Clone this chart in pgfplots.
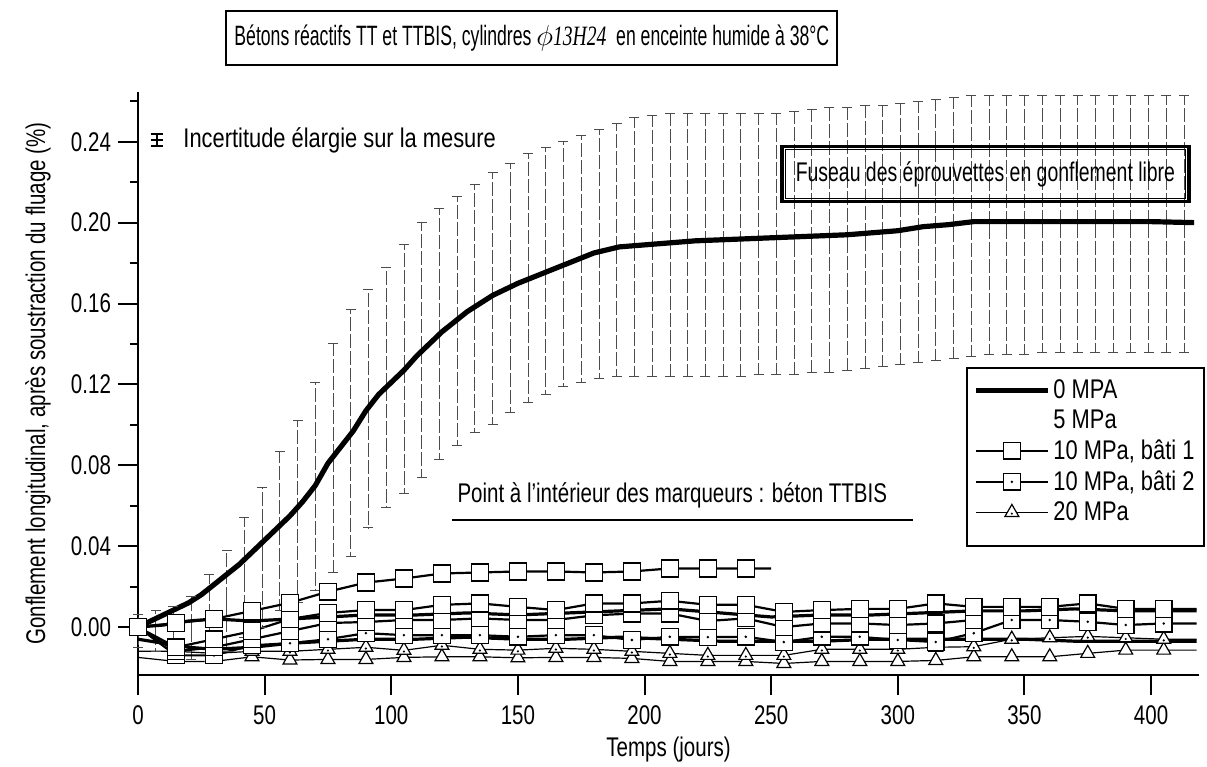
\documentclass[border=0pt]{standalone}
\usepackage{pgfplots}
\pgfplotsset{compat=1.18}
\usepackage{pgfplotstable}
\usepackage{fontspec}
\setmainfont{Liberation Sans}[FakeStretch=0.76]
\newfontfamily\widefont{Liberation Sans}[FakeStretch=0.81]
\newfontfamily\fusfont{Liberation Sans}[FakeStretch=0.72]
\newfontfamily\titlefont{Liberation Sans}[FakeStretch=0.63]
\newfontfamily\serifit{Liberation Serif}[FakeStretch=0.7]
\newcommand\fs{\fontsize{13.5}{15}\selectfont}

% square with a dot (TTBIS), triangle with a dot
\pgfdeclareplotmark{sqdot}{%
  \pgfpathrectangle{\pgfqpoint{-\pgfplotmarksize}{-\pgfplotmarksize}}{\pgfqpoint{2\pgfplotmarksize}{2\pgfplotmarksize}}%
  \pgfusepathqfillstroke
  \begin{pgfscope}\pgfpathcircle{\pgfpointorigin}{0.7pt}\pgfsetfillcolor{black}\pgfusepathqfill\end{pgfscope}}
\pgfdeclareplotmark{tridot}{%
  \pgfuseplotmark{triangle*}%
  \begin{pgfscope}\pgfpathcircle{\pgfqpoint{0pt}{-0.15\pgfplotmarksize}}{0.6pt}\pgfsetfillcolor{black}\pgfusepathqfill\end{pgfscope}}

\pgfplotsset{
  sq1/.style={black, line width=1.1pt, mark=square*, mark size=4.2pt, mark options={fill=white, line width=0.7pt}},
  sq2/.style={black, line width=1.1pt, mark=sqdot, mark size=4.2pt, mark options={fill=white, line width=0.7pt}},
  tri1/.style={black, line width=0.6pt, mark=triangle*, mark size=4pt, mark options={fill=white, line width=0.6pt}},
  tri2/.style={black, line width=0.6pt, mark=tridot, mark size=4pt, mark options={fill=white, line width=0.6pt}},
}

% envelope of the free-swelling specimens
\pgfplotstableread{
x   hi     lo
0   0.006  -0.010
7   0.008  -0.012
14  0.010  -0.014
21  0.015  -0.016
28  0.026  -0.017
35  0.038  -0.012
42  0.054  -0.005
49  0.069  0.000
56  0.087  0.008
63  0.102  0.012
70  0.121  0.018
77  0.140  0.027
84  0.157  0.035
91  0.167  0.049
98  0.178  0.059
105 0.189  0.066
112 0.200  0.074
119 0.207  0.083
126 0.213  0.090
133 0.219  0.096
140 0.225  0.100
147 0.229  0.106
154 0.234  0.111
161 0.237  0.115
168 0.240  0.119
175 0.243  0.121
182 0.246  0.123
189 0.249  0.124
196 0.252  0.124
203 0.253  0.124
210 0.254  0.124
217 0.254  0.124
224 0.254  0.124
231 0.254  0.124
238 0.254  0.124
245 0.254  0.125
252 0.254  0.125
259 0.255  0.125
266 0.256  0.126
273 0.257  0.126
280 0.257  0.127
287 0.258  0.128
294 0.258  0.129
301 0.259  0.130
308 0.260  0.131
315 0.261  0.132
322 0.262  0.133
329 0.263  0.134
336 0.263  0.135
343 0.263  0.135
350 0.263  0.135
357 0.263  0.136
364 0.263  0.136
371 0.263  0.136
378 0.263  0.136
385 0.263  0.136
392 0.263  0.136
399 0.263  0.136
406 0.263  0.136
413 0.263  0.136
}\fus

\pgfplotstableread{
x   y
0   0.000
5   0.003
10  0.006
15  0.009
20  0.012
25  0.016
30  0.021
35  0.026
40  0.031
45  0.037
50  0.043
55  0.049
60  0.055
65  0.062
70  0.070
75  0.081
80  0.089
85  0.097
90  0.107
95  0.115
100 0.121
105 0.127
110 0.134
115 0.140
120 0.146
125 0.151
130 0.156
135 0.160
140 0.164
150 0.170
160 0.175
170 0.180
180 0.185
190 0.188
200 0.189
210 0.190
220 0.191
240 0.192
260 0.193
280 0.194
300 0.196
310 0.198
320 0.199
330 0.2005
360 0.2005
400 0.2005
417 0.200
}\zero

\pgfplotstableread{
x   y
0   0.000
15  0.002
30  0.004
45  0.008
60  0.012
75  0.0175
90  0.022
105 0.024
120 0.0265
135 0.027
150 0.0275
165 0.0275
180 0.027
195 0.0275
210 0.029
225 0.029
240 0.029
250 0.029
}\batiA

\pgfplotstableread{
x   B       C       D       F       G
0   0.000   0.000   0.000   -0.012  -0.015
15  -0.010  -0.012  -0.014  -0.012  -0.017
30  -0.006  -0.010  -0.014  -0.013  -0.017
45  -0.002  -0.006  -0.009  -0.012  -0.0147
60  0.004   -0.002  -0.008  -0.012  -0.0163
75  0.007   0.002   -0.006  -0.011  -0.016
90  0.0084  0.0025  -0.003  -0.010  -0.016
105 0.0084  0.0035  -0.004  -0.0115 -0.015
120 0.011   0.0035  -0.004  -0.009  -0.0147
135 0.0117  0.0043  -0.004  -0.011  -0.0147
150 0.010   0.0035  -0.0048 -0.0114 -0.0152
165 0.0084  0.0035  -0.004  -0.0105 -0.015
180 0.0117  0.0058  -0.004  -0.011  -0.015
195 0.0117  0.0067  -0.0064 -0.012  -0.0155
210 0.013   0.0067  -0.0048 -0.013  -0.017
225 0.011   0.003   -0.005  -0.014  -0.017
240 0.011   0.0043  -0.0048 -0.014  -0.017
255 0.0075  0.000   -0.0074 -0.014  -0.018
270 0.0084  0.0018  -0.0048 -0.011  -0.017
285 0.009   0.0018  -0.0048 -0.011  -0.017
300 0.009   0.001   -0.0064 -0.011  -0.017
315 0.0117  0.0018  -0.0074 -0.010  -0.0165
330 0.010   0.0035  -0.003  -0.0097 -0.0147
345 0.010   nan     0.0035  -0.006  -0.0147
360 0.010   nan     0.0035  -0.0053 -0.0147
375 0.0117  nan     0.0026  -0.0046 -0.013
390 0.009   nan     0.0010  -0.0053 -0.0114
405 0.009   nan     0.0018  -0.006  -0.0114
418 0.009   nan     0.0018  -0.006  -0.0114
}\clus

\pgfplotstableread{
x   E1      E2
0   0.000   -0.006
10  0.001   -0.008
20  0.003   -0.010
30  0.004   -0.011
45  0.003   -0.010
60  0.004   -0.008
75  0.005   -0.007
90  0.006   -0.006
110 0.006   -0.006
130 0.007   -0.005
150 0.006   -0.006
170 0.007   -0.006
190 0.008   -0.005
210 0.009   -0.006
230 0.007   -0.007
250 0.005   -0.007
270 0.006   -0.007
290 0.006   -0.006
310 0.007   -0.006
330 0.008   -0.006
350 0.008   -0.006
370 0.009   -0.007
390 0.008   -0.007
418 0.008   -0.007
}\cinq

\begin{document}
\begin{tikzpicture}
\useasboundingbox (-69pt,-46pt) rectangle (534.5pt,337.5pt);
\begin{axis}[
  at={(0pt,0pt)}, anchor=south west,
  width=530.6pt, height=291.5pt, scale only axis,
  xmin=0, xmax=419, ymin=-0.0237, ymax=0.2646,
  axis x line=bottom, axis y line=left,
  axis line style={-, line width=1.2pt},
  tick align=outside, major tick length=10pt, minor tick length=4pt,
  tick style={black, line width=1pt},
  xtick={0,50,100,150,200,250,300,350,400},
  ytick={0,0.04,0.08,0.12,0.16,0.20,0.24},
  minor ytick={0.02,0.06,0.10,0.14,0.18,0.22,0.26},
  ticklabel style={font=\fs},
  xticklabel style={yshift=-2pt},
  /pgf/number format/assume math mode=true,
  yticklabel style={/pgf/number format/.cd, fixed, fixed zerofill, precision=2},
  xlabel={Temps (jours)},
  ylabel={Gonflement longitudinal, après soustraction du fluage (\%)},
  label style={font=\fs},
  xlabel style={at={(axis description cs:0.5,-0.1286)}, anchor=center},
  ylabel style={at={(axis description cs:-0.0943,0.5)}, anchor=center, rotate=0},
  clip=false,
  legend style={at={(1.005,0.528)}, anchor=north east, draw=black, line width=1pt,
    fill=white, font=\widefont\fs, inner xsep=3pt, inner ysep=4pt, row sep=1.2pt,
    nodes={inner sep=1.5pt}},
  legend cell align=left,
  legend image code/.code={\draw[mark repeat=2, mark phase=2, #1] plot coordinates {(0pt,0pt) (18pt,0pt) (36pt,0pt)};},
]
% envelope (uncertainty band of free swelling)
\addplot[draw=none, mark=none, forget plot,
  error bars/.cd, y dir=both, y explicit, error mark=none,
  error bar style={line width=0.35pt, black!70, dash pattern=on 7pt off 1.5pt}]
  table[x=x, y expr=(\thisrow{hi}+\thisrow{lo})/2, y error expr=(\thisrow{hi}-\thisrow{lo})/2] {\fus};
\addplot[only marks, mark=-, mark size=2.5pt, mark options={line width=0.5pt, black!70}, forget plot] table[x=x, y=hi] {\fus};
\addplot[only marks, mark=-, mark size=2.5pt, mark options={line width=0.5pt, black!70}, forget plot] table[x=x, y=lo] {\fus};

% 5 MPa
\addplot[black, line width=1.6pt, forget plot] table[x=x, y=E1] {\cinq};
\addplot[black, line width=1.6pt, forget plot] table[x=x, y=E2] {\cinq};
% 20 MPa
\addplot[tri1, mark indices={4,5,6,7,8,9,10,11,12,13,14,15,16,17,18,19,20,21,22,23,24,25,26,27,28}, forget plot] table[x=x, y=G] {\clus};
\addplot[tri2, mark indices={4,5,6,7,8,9,10,11,12,13,14,15,16,17,18,19,20,21,22,23,24,25,26,27,28}, forget plot] table[x=x, y=F] {\clus};
% 10 MPa
\addplot[sq2, mark indices={1,2,3,4,5,6,7,8,9,10,11,12,13,14,15,16,17,18,19,20,21,22,23,24,25,26,27,28}, forget plot] table[x=x, y=D] {\clus};
\addplot[sq1, forget plot] table[x=x, y=C] {\clus};
\addplot[sq1, mark indices={1,2,3,4,5,6,7,8,9,10,11,12,13,14,15,16,17,18,19,20,21,22,23,24,25,26,27,28}, forget plot] table[x=x, y=B] {\clus};
\addplot[sq1, mark indices={1,2,3,4,5,6,7,8,9,10,11,12,13,14,15,16,17}, forget plot] table[x=x, y=y] {\batiA};
% 0 MPa
\addplot[black, line width=2.6pt, forget plot] table[x=x, y=y] {\zero};

\addlegendimage{black, line width=2.6pt}\addlegendentry{0 MPA}
\addlegendimage{empty legend}\addlegendentry{5 MPa}
\addlegendimage{sq1}\addlegendentry{10 MPa, bâti 1}
\addlegendimage{sq2}\addlegendentry{10 MPa, bâti 2}
\addlegendimage{tri2}\addlegendentry{20 MPa}
\addlegendimage{empty legend}\addlegendentry{}

% annotations
\node[draw, line width=1pt, inner xsep=4pt, minimum height=27pt, font=\titlefont\fontsize{14}{16}\selectfont]
  at (axis cs:155.5,0.2913) {Bétons réactifs TT et TTBIS, cylindres {\serifit\itshape $\phi$13H24}\ \ en enceinte humide à 38°C};
\node[draw, line width=1.6pt, minimum width=203.5pt, minimum height=27.5pt, inner sep=0pt, font=\fusfont\fs] (fus)
  at (axis cs:334.6,0.224) {Fuseau des éprouvettes en gonflement libre};
\draw[line width=0.5pt] ([shift={(2.4pt,2.4pt)}]fus.south west) rectangle ([shift={(-2.4pt,-2.4pt)}]fus.north east);
\node[anchor=west, inner sep=0pt, font=\widefont\fs] (inc) at (axis cs:17.8,0.2408) {Incertitude élargie sur la mesure};
\draw[line width=0.6pt] ([xshift=-13pt,yshift=-3pt]inc.west) -- ([xshift=-13pt,yshift=3pt]inc.west);
\draw[line width=0.7pt] ([xshift=-16pt,yshift=3pt]inc.west) -- ([xshift=-10pt,yshift=3pt]inc.west)
  ([xshift=-16pt,yshift=-3pt]inc.west) -- ([xshift=-10pt,yshift=-3pt]inc.west);
\draw[line width=1.3pt] ([xshift=-16pt]inc.west) -- ([xshift=-10pt]inc.west);
\node[anchor=west, inner sep=0pt, font=\fs] at (axis cs:126,0.0653) {Point à l'intérieur des marqueurs : béton TTBIS};
\draw[line width=1pt] (axis cs:123.8,0.0529) -- (axis cs:306,0.0529);
\end{axis}
\end{tikzpicture}
\end{document}
